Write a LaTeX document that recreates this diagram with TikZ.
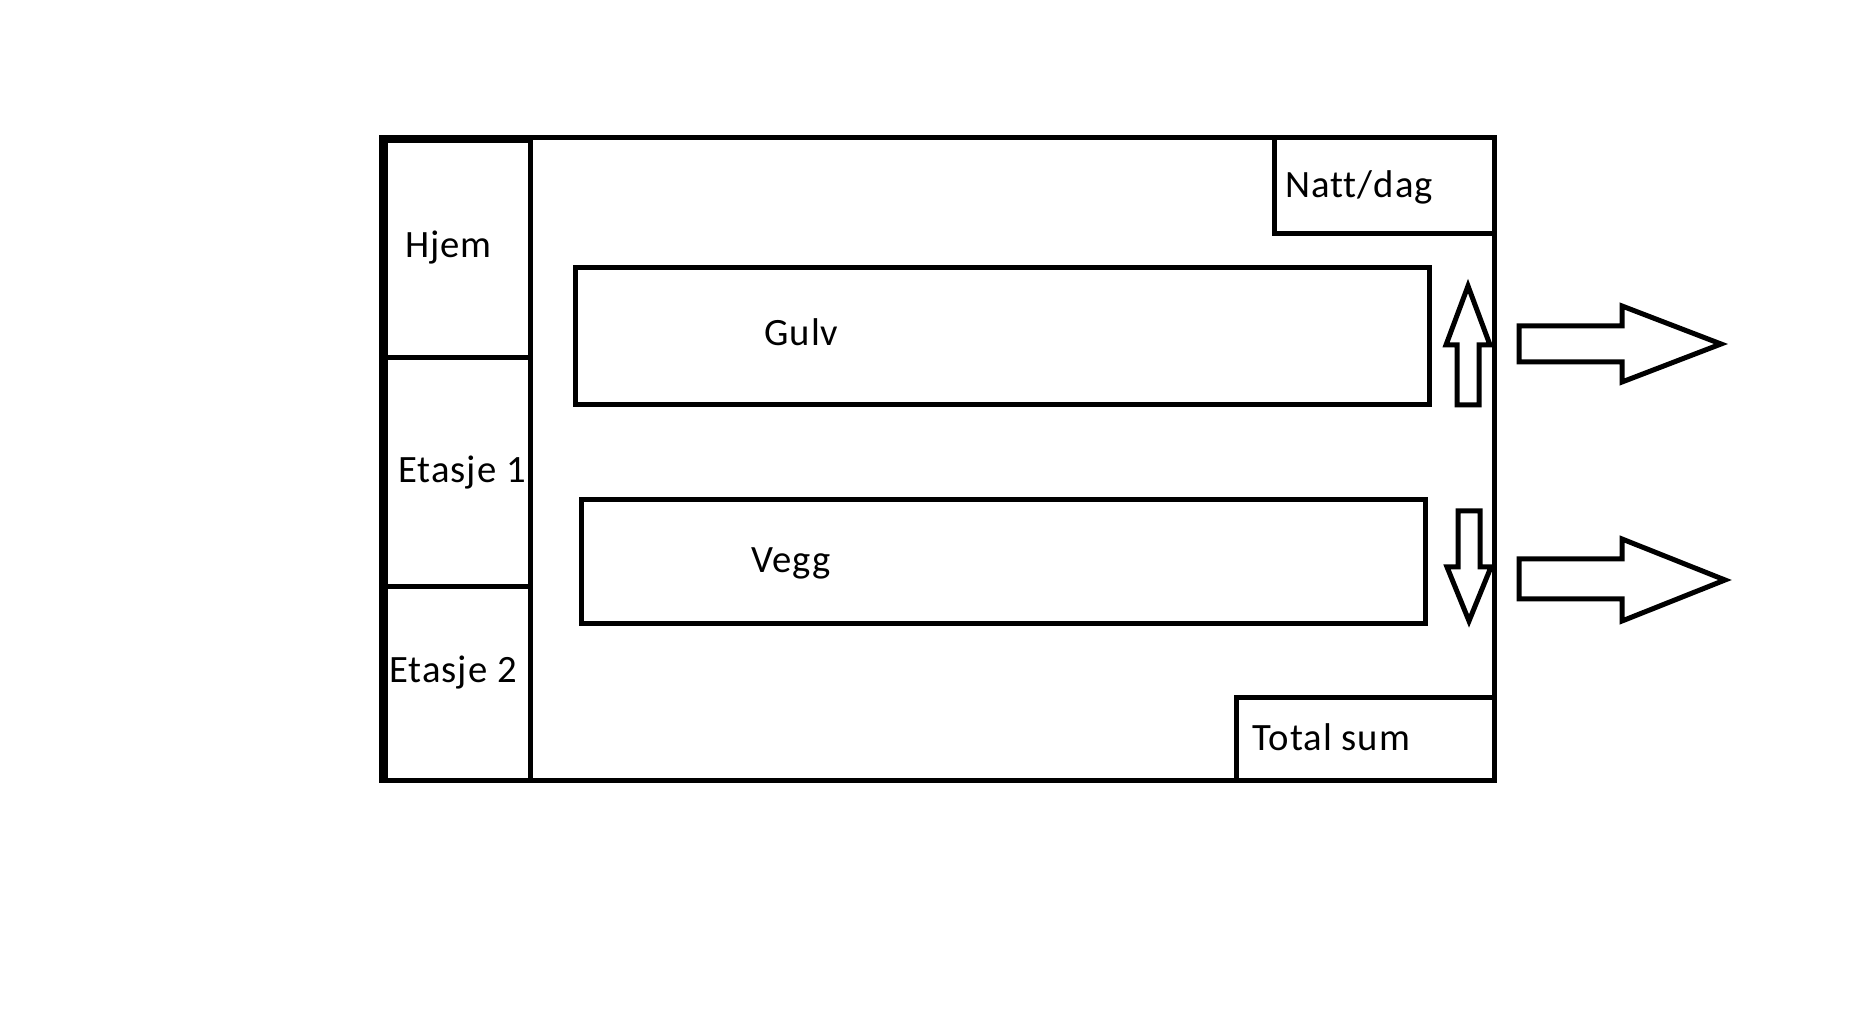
\documentclass[tikz,border=0pt]{standalone}
\usepackage{fontspec}
\setmainfont{Carlito}[LetterSpace=2.5,Ligatures=NoCommon]
\begin{document}
\begin{tikzpicture}[x=0.01cm,y=-0.01cm,line width=0.05cm,line join=miter,
  txt/.style={anchor=base west,inner sep=0pt,font=\fontsize{11}{13}\selectfont}]
\useasboundingbox (0,0) rectangle (1863,1034);
% outer frame
\draw (381.5,137.5) rectangle (1494.5,780.5);
% left column
\draw (385,141) rectangle (530.5,780.5);
\draw (385,358) -- (530.5,358);
\draw (385,587) -- (530.5,587);
% corner boxes
\draw (1274.5,137.5) |- (1494.5,233.5);
\draw (1236.5,780.5) |- (1494.5,697.5);
% bars
\draw (575.5,267.5) rectangle (1429.5,405);
\draw (581.5,499.5) rectangle (1425.5,624);
% up arrow
\draw (1468,286) -- (1490,345) -- (1479,345) -- (1479,405) -- (1457,405) -- (1457,345) -- (1446,345) -- cycle;
% down arrow
\draw (1458,511) -- (1480,511) -- (1480,567) -- (1491,567) -- (1469,621) -- (1447,567) -- (1458,567) -- cycle;
% right arrows
\draw (1519,326) -- (1622,326) -- (1622,306) -- (1721,344) -- (1622,382) -- (1622,362) -- (1519,362) -- cycle;
\draw (1519,559) -- (1622,559) -- (1622,539) -- (1725,580) -- (1622,621) -- (1622,599) -- (1519,599) -- cycle;
% texts
\node[txt] (hjem) at (403,258) {Hjem};
\node[txt] (et1) at (396,483) {Etasje 1};
\node[txt] (et2) at (387,683) {Etasje 2};
\node[txt] (natt) at (1283,198) {Natt/dag};
\node[txt] (total) at (1250,751) {Total sum};
\node[txt] (gulv) at (762,346) {Gulv};
\node[txt] (vegg) at (749,573) {Vegg};
\end{tikzpicture}
\end{document}
